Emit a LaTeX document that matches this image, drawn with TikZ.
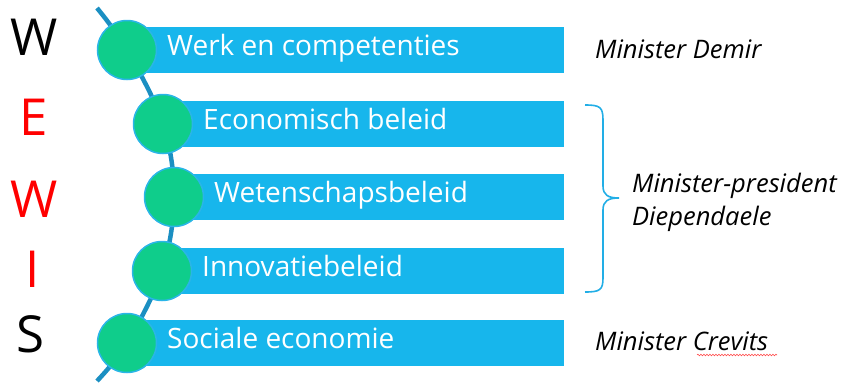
\documentclass[tikz,border=0pt]{standalone}
\usepackage{fontspec}
\setmainfont{Open Sans}
\usepackage{xcolor}
\usetikzlibrary{decorations.pathmorphing}
\definecolor{barcolor}{HTML}{17B6EC}
\definecolor{dotcolor}{HTML}{0FCD8B}
\definecolor{rimcolor}{HTML}{2AB5E8}
\definecolor{spinecolor}{HTML}{1B8FC2}
\definecolor{bracecolor}{HTML}{22AEE6}
\definecolor{wewisred}{HTML}{FF0000}
\tikzset{
  bar/.style={rectangle, fill=barcolor, anchor=west, minimum height=46pt,
    inner sep=0pt},
  bartext/.style={anchor=base west, inner sep=0pt, text=white,
    font=\fontsize{28}{31}\selectfont},
  dot/.style={circle, fill=dotcolor, draw=rimcolor, line width=1.5pt,
    minimum size=59pt, inner sep=0pt},
  letter/.style={anchor=base, inner sep=0pt, font=\fontsize{51}{54}\selectfont},
  minister/.style={anchor=base west, inner sep=0pt,
    font=\fontsize{25.5}{28}\selectfont\itshape}
}

\begin{document}
\begin{tikzpicture}[x=1pt,y=-1pt]
    \useasboundingbox (0,0) rectangle (852,383);
    \coordinate (spineTop) at (97,8);
    \coordinate (centre1) at (127,50);
    \coordinate (centre2) at (163,124);
    \coordinate (centre3) at (174,197);
    \coordinate (centre4) at (162,271);
    \coordinate (centre5) at (127,343);
    \coordinate (spineBottom) at (97,381);
    %
    \draw[spinecolor, line width=4.5pt] plot[smooth, tension=0.6] coordinates
      {(spineTop) (centre1) (centre2) (centre3) (centre4) (centre5) (spineBottom)};
    %
    \node[bar, minimum width=437pt] at (centre1) (barWerk) {};
    \node[bar, minimum width=401pt] at (centre2) (barEconomie) {};
    \node[bar, minimum width=390pt] at (centre3) (barWetenschap) {};
    \node[bar, minimum width=402pt] at (centre4) (barInnovatie) {};
    \node[bar, minimum width=437pt] at (centre5) (barSociaal) {};
    %
    \node[dot] at (centre1) (dot1) {};
    \node[dot] at (centre2) (dot2) {};
    \node[dot] at (centre3) (dot3) {};
    \node[dot] at (centre4) (dot4) {};
    \node[dot] at (centre5) (dot5) {};
    %
    \node[bartext] at ([xshift=40pt, yshift=-5.5pt]centre1) (textWerk) {Werk en competenties};
    \node[bartext] at ([xshift=40pt, yshift=-5.5pt]centre2) (textEconomie) {Economisch beleid};
    \node[bartext] at ([xshift=40pt, yshift=-5.5pt]centre3) (textWetenschap) {Wetenschapsbeleid};
    \node[bartext] at ([xshift=40pt, yshift=-5.5pt]centre4) (textInnovatie) {Innovatiebeleid};
    \node[bartext] at ([xshift=40pt, yshift=-5.5pt]centre5) (textSociaal) {Sociale economie};
    %
    \node[letter] at (34,55) (letterW) {W};
    \node[letter, wewisred] at (34,135) (letterE) {E};
    \node[letter, wewisred] at (34,217) (letterWtwo) {W};
    \node[letter, wewisred] at (33,287) (letterI) {I};
    \node[letter] at (30,352) (letterS) {S};
    %
    \node[minister] at (595,58) (minDemir) {Minister Demir};
    \node[minister] at (632,192) (minPresident) {Minister-president};
    \node[minister] at (632,225) (minDiependaele) {Diependaele};
    \node[minister] at (595,350) (minCrevits) {Minister Crevits};
    %
    \draw[bracecolor, line width=1.6pt] (585,105) .. controls (600,105) and (603,107) .. (603,120)
      -- (603,186) .. controls (603,195) and (608,198) .. (619,198)
      .. controls (608,198) and (603,201) .. (603,210)
      -- (603,278) .. controls (603,290) and (600,292) .. (585,292);
    \draw[red!70, line width=0.6pt, decorate,
      decoration={snake, amplitude=0.8pt, segment length=3pt}] (697,355) -- (777,355);
\end{tikzpicture}
\end{document}
